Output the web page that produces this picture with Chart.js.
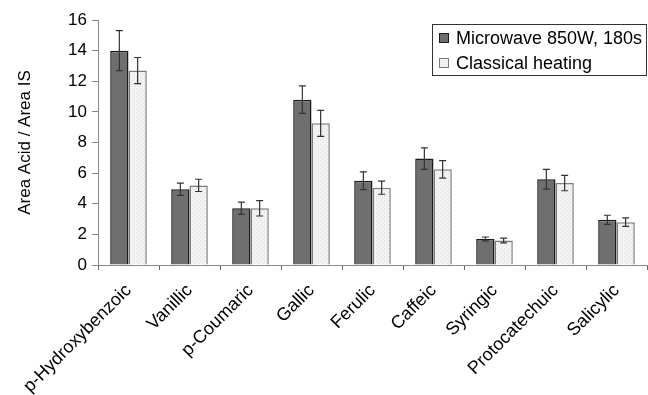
<!DOCTYPE html>
<html lang="en">

<head>
  <meta charset="UTF-8">
  <title>Area Acid / Area IS</title>
  <script src="https://cdn.jsdelivr.net/npm/chart.js"></script>
  <style>
    body { margin: 0; background: #fff; }
    .charts { position: relative; width: 648px; height: 395px; }
  </style>
</head>

<body>
  <div class="charts">
    <canvas id="myChart"></canvas>
  </div>

  <script>
    // dados
    const acidos = ['p-Hydroxybenzoic', 'Vanillic', 'p-Coumaric', 'Gallic', 'Ferulic',
      'Caffeic', 'Syringic', 'Protocatechuic', 'Salicylic'];
    const microondas = [14.0, 4.95, 3.7, 10.8, 5.5, 6.95, 1.7, 5.6, 2.95];
    const microondasErro = [1.3, 0.4, 0.4, 0.9, 0.58, 0.7, 0.13, 0.65, 0.3];
    const classico = [12.7, 5.2, 3.7, 9.25, 5.05, 6.25, 1.6, 5.35, 2.8];
    const classicoErro = [0.85, 0.4, 0.5, 0.85, 0.43, 0.57, 0.15, 0.5, 0.28];
    const yTicks = [0, 2, 4, 6, 8, 10, 12, 14, 16];

    const fonte = '"Liberation Sans", Arial, sans-serif';

    // padrao pontilhado claro das barras do aquecimento classico
    function criarPadrao() {
      const c = document.createElement('canvas');
      c.width = 4; c.height = 4;
      const g = c.getContext('2d');
      g.fillStyle = '#f3f3f3';
      g.fillRect(0, 0, 4, 4);
      g.fillStyle = '#d9d9d9';
      g.fillRect(0, 0, 1, 1);
      g.fillRect(2, 2, 1, 1);
      return g.createPattern(c, 'repeat');
    }

    const barrasErro = {
      id: 'barrasErro',
      afterDatasetsDraw(chart) {
        const ctx = chart.ctx;
        const y = chart.scales.y;
        chart.data.datasets.forEach((ds, i) => {
          const meta = chart.getDatasetMeta(i);
          meta.data.forEach((bar, j) => {
            const v = ds.data[j];
            const e = ds.erros[j];
            const top = y.getPixelForValue(v + e);
            const bot = y.getPixelForValue(v - e);
            ctx.save();
            ctx.strokeStyle = '#333';
            ctx.lineWidth = 1.2;
            ctx.beginPath();
            ctx.moveTo(bar.x, top); ctx.lineTo(bar.x, bot);
            ctx.moveTo(bar.x - 3.5, top); ctx.lineTo(bar.x + 3.5, top);
            ctx.moveTo(bar.x - 3.5, bot); ctx.lineTo(bar.x + 3.5, bot);
            ctx.stroke();
            ctx.restore();
          });
        });
      }
    };

    const legenda = {
      id: 'legenda',
      afterDraw(chart) {
        const ctx = chart.ctx;
        ctx.save();
        ctx.fillStyle = '#fff';
        ctx.fillRect(432, 24, 215, 51);
        ctx.strokeStyle = '#333';
        ctx.lineWidth = 1;
        ctx.strokeRect(432.5, 24.5, 214, 51);
        chart.data.datasets.forEach((ds, i) => {
          const yy = 38 + i * 25;
          ctx.fillStyle = ds.backgroundColor;
          ctx.fillRect(439, yy - 5, 10, 10);
          ctx.strokeStyle = ds.borderColor;
          ctx.strokeRect(439.5, yy - 4.5, 9, 9);
          ctx.fillStyle = '#000';
          ctx.font = '18px ' + fonte;
          ctx.textBaseline = 'middle';
          ctx.fillText(ds.label, 456, yy + 1);
        });
        ctx.restore();
      }
    };

    const ctx = document.getElementById('myChart').getContext('2d');

    new Chart(ctx, {
      type: 'bar',
      data: {
        labels: acidos,
        datasets: [
          {
            label: 'Microwave 850W, 180s',
            data: microondas,
            erros: microondasErro,
            backgroundColor: '#6f6f6f',
            borderColor: '#1a1a1a',
            borderWidth: 1.5
          },
          {
            label: 'Classical heating',
            data: classico,
            erros: classicoErro,
            backgroundColor: criarPadrao(),
            borderColor: '#7a7a7a',
            borderWidth: 1.5
          }
        ]
      },
      options: {
        responsive: true,
        maintainAspectRatio: false,
        animation: false,
        categoryPercentage: 0.6,
        barPercentage: 1.0,
        layout: { padding: { top: 20, right: 1 } },
        plugins: {
          legend: { display: false },
          tooltip: { enabled: false }
        },
        scales: {
          y: {
            min: 0,
            max: 16,
            afterBuildTicks(scale) {
              scale.ticks = yTicks.map(v => ({ value: v }));
            },
            afterFit(scale) { scale.width = 98; },
            ticks: {
              color: '#000',
              font: { family: fonte, size: 17 },
              padding: 5
            },
            grid: { drawOnChartArea: false, tickLength: 6, color: '#888' },
            border: { color: '#888', width: 1 },
            title: {
              display: true,
              text: 'Area Acid / Area IS',
              color: '#000',
              font: { family: fonte, size: 17 },
              padding: { top: 15, bottom: 0 }
            }
          },
          x: {
            offset: true,
            afterFit(scale) { scale.height = 130; },
            ticks: {
              color: '#000',
              font: { family: fonte, size: 18 },
              minRotation: 45,
              maxRotation: 45,
              padding: 10
            },
            grid: { offset: true, drawOnChartArea: false, tickLength: 5, color: '#666' },
            border: { color: '#888', width: 1 }
          }
        }
      },
      plugins: [barrasErro, legenda]
    });
  </script>

</body>

</html>
